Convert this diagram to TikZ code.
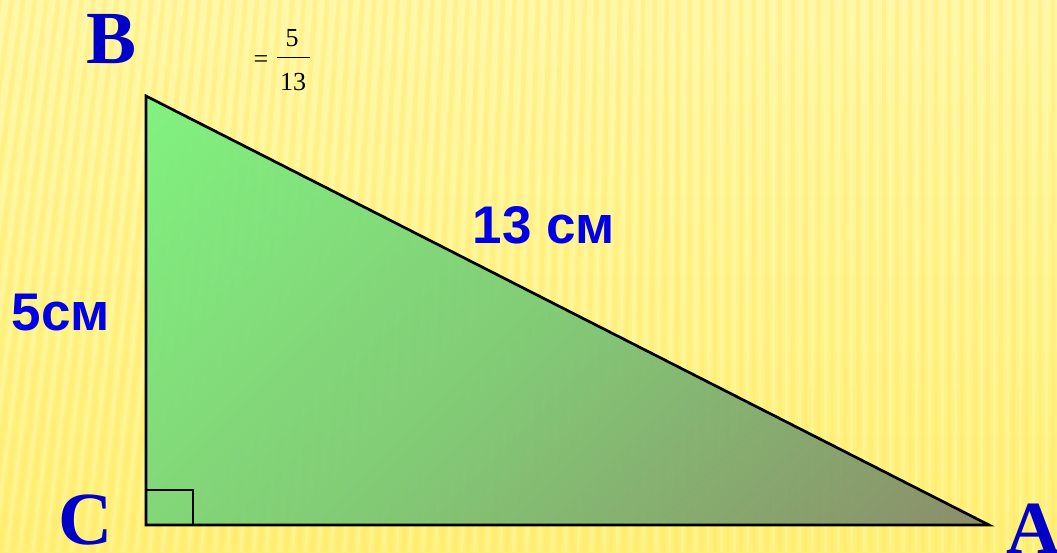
\documentclass[tikz,border=0pt]{standalone}
\usepackage{fontspec}
\setmainfont{Liberation Serif}
\newfontfamily\labsans{Liberation Sans}
\begin{document}
\begin{tikzpicture}[x=1pt,y=-1pt,
  vlabel/.style={font=\fontsize{75}{80}\selectfont\bfseries, text=vblue, inner sep=0pt, anchor=base},
  mlabel/.style={font=\labsans\fontsize{53}{60}\selectfont\bfseries, text=mblue, inner sep=0pt, anchor=base},
  fraclab/.style={font=\fontsize{26}{28}\selectfont, text=black, inner sep=0pt, anchor=base},
  edge/.style={draw=black, line width=2.7pt, line join=miter}]
\definecolor{vblue}{RGB}{0,0,200}
\definecolor{mblue}{RGB}{0,0,230}
\definecolor{bgtop}{RGB}{255,247,165}
\definecolor{bgbot}{RGB}{255,240,120}
\definecolor{stripe}{RGB}{255,234,100}
\definecolor{stripeL}{RGB}{255,251,185}
\definecolor{gA}{RGB}{122,250,128}
\definecolor{gM}{RGB}{123,200,117}
\definecolor{gZ}{RGB}{134,124,102}
% background
\useasboundingbox (0,0) rectangle (1057,552);
\shade[top color=bgtop, bottom color=bgbot] (0,0) rectangle (1057,552);
\begin{scope}
\clip (0,0) rectangle (1057,552);
\foreach \i in {-6,...,86}{
  \pgfmathsetmacro{\xb}{\i*13}
  \pgfmathsetmacro{\tl}{max(0,70*(1-\xb/700))}
  \draw[stripe, opacity=0.35, line width=4.5pt] (\xb+\tl,0) -- (\xb,552);
  \draw[stripeL, opacity=0.35, line width=3.5pt] (\xb+6.5+\tl,0) -- (\xb+6.5,552);
}
\end{scope}
% triangle
\coordinate (B) at (146,96);
\coordinate (C) at (146,525);
\coordinate (A) at (989,525);
\begin{scope}
\clip (B) -- (C) -- (A) -- cycle;
\shade[left color=gA, right color=gZ, middle color=gM, shading angle=45, opacity=0.94] (-68,-118) rectangle (996,946);
\end{scope}
\draw[edge] (B) -- (C) -- (A) -- cycle;
\coordinate (R1) at (146,490);
\coordinate (R2) at (193,490);
\coordinate (R3) at (193,525);
\draw[edge] (R1) -- (R2) -- (R3);
% vertex labels
\node[vlabel] (lB) at (112,63) {B};
\node[vlabel] (lC) at (86,544) {C};
\node[vlabel] (lA) at (1034,553) {A};
% side labels
\node[mlabel] (hyp) at (544,243) {13 см};
\node[mlabel] (leg) at (61,330) {5см};
% fraction
\node[fraclab] (eq) at (261,67) {=};
\node[fraclab] (num) at (292,46) {5};
\node[fraclab] (den) at (293,90) {13};
\coordinate (f1) at (277,57.5);
\coordinate (f2) at (310,57.5);
\draw[line width=1pt] (f1) -- (f2);
\end{tikzpicture}
\end{document}
